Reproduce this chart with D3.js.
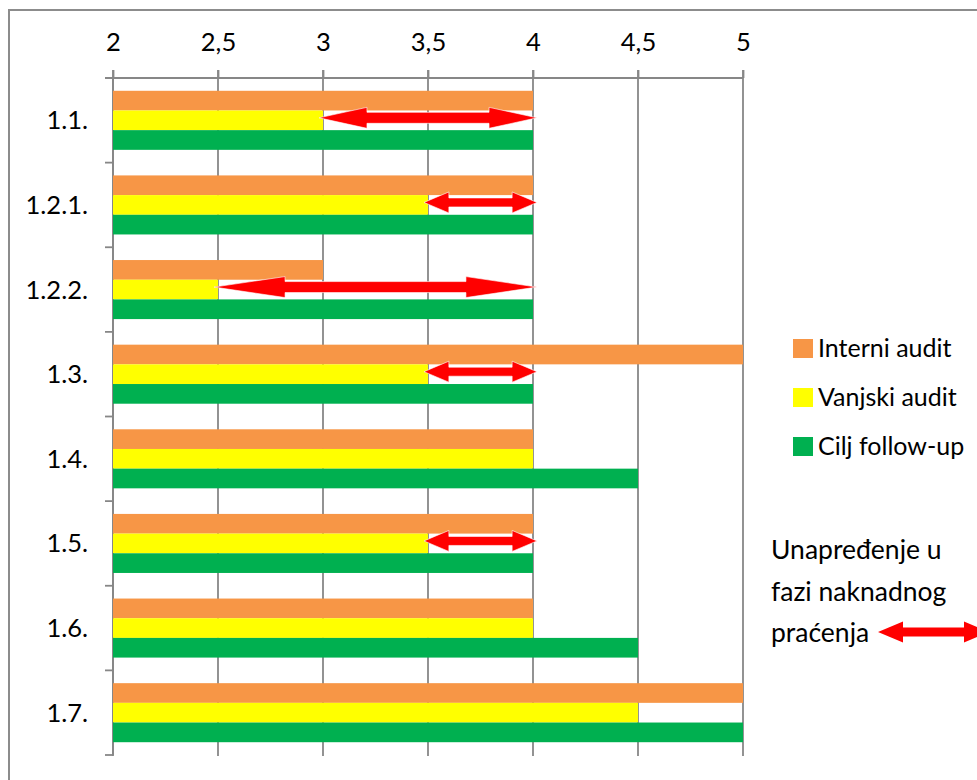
<!DOCTYPE html>
<html>
<head>
<meta charset="utf-8">
<script src="https://cdn.jsdelivr.net/npm/d3@7/dist/d3.min.js"></script>
<style>
  html, body { margin: 0; padding: 0; background: #fff; }
  svg { display: block; }
  text { font-family: Lato, "Noto Sans", "DejaVu Sans", sans-serif; fill: #000; }
</style>
</head>
<body>
<svg id="chart" width="977" height="780"></svg>
<script>
// ---- data ----
const categories = ["1.1.", "1.2.1.", "1.2.2.", "1.3.", "1.4.", "1.5.", "1.6.", "1.7."];
const interniAudit = [4, 4, 3, 5, 4, 4, 4, 5];
const vanjskiAudit = [3, 3.5, 2.5, 3.5, 4, 3.5, 4, 4.5];
const ciljFollowUp = [4, 4, 4, 4, 4.5, 4, 4.5, 5];
const seriesNames = ["Interni audit", "Vanjski audit", "Cilj follow-up"];
const tickValues = [2, 2.5, 3, 3.5, 4, 4.5, 5];
const tickLabels = ["2", "2,5", "3", "3,5", "4", "4,5", "5"];
// improvement arrows (from external audit value to follow-up target)
const arrowCats = ["1.1.", "1.2.1.", "1.2.2.", "1.3.", "1.5."];
const arrowFrom = [3, 3.5, 2.5, 3.5, 3.5];
const arrowTo = [4, 4, 4, 4, 4];
const noteLines = ["Unapređenje u", "fazi naknadnog", "praćenja"];

// ---- layout ----
const colors = ["#F79646", "#FFFF00", "#00B050"];
const seriesValues = [interniAudit, vanjskiAudit, ciljFollowUp];
const svg = d3.select("#chart");
const W = 977, H = 780;
const plot = { left: 113, right: 743, top: 78, bottom: 755 };
const gridColor = "#878787";

svg.append("rect").attr("width", W).attr("height", H).attr("fill", "#fff");
// outer chart border (extends beyond the visible area on right/bottom)
svg.append("rect")
  .attr("x", 9).attr("y", 10).attr("width", 1100).attr("height", 1100)
  .attr("fill", "none").attr("stroke", "#8c8c8c").attr("stroke-width", 2);

const x = d3.scaleLinear().domain([2, 5]).range([plot.left, plot.right]);
const y = d3.scaleBand().domain(categories).range([plot.top, plot.bottom]).padding(0);
const sub = d3.scaleBand().domain(d3.range(3)).range([0, y.bandwidth()])
  .paddingInner(0).paddingOuter(0.65);

// vertical gridlines
svg.append("g").selectAll("line").data(tickValues).join("line")
  .attr("x1", d => x(d)).attr("x2", d => x(d))
  .attr("y1", plot.top - 8).attr("y2", plot.bottom + 1)
  .attr("stroke", gridColor).attr("stroke-width", 1.8);

// top axis
const xAxis = d3.axisTop(x).tickValues(tickValues)
  .tickFormat((d, i) => tickLabels[i]).tickSize(8).tickSizeOuter(0);
const gx = svg.append("g").attr("transform", `translate(0,${plot.top})`).call(xAxis);
gx.select(".domain").attr("stroke", gridColor).attr("stroke-width", 1.8)
  .attr("d", `M${plot.left - 8},0H${plot.right}`);
gx.selectAll(".tick line").attr("stroke", gridColor).attr("stroke-width", 1.8);
gx.selectAll(".tick text").attr("font-size", 25.5).attr("y", -27).attr("dy", 0)
  .style("font-family", "Lato, 'Noto Sans', sans-serif");

// left category axis
const boundaries = categories.map(c => y(c)).concat([plot.bottom]);
svg.append("line").attr("x1", plot.left).attr("x2", plot.left)
  .attr("y1", plot.top).attr("y2", plot.bottom)
  .attr("stroke", gridColor).attr("stroke-width", 1.8);
svg.append("g").selectAll("line").data(boundaries).join("line")
  .attr("x1", plot.left - 8).attr("x2", plot.left)
  .attr("y1", d => d).attr("y2", d => d)
  .attr("stroke", gridColor).attr("stroke-width", 1.8);
svg.append("g").selectAll("text").data(categories).join("text")
  .attr("x", 88).attr("y", d => y(d) + y.bandwidth() / 2 + 9)
  .attr("text-anchor", "end").attr("font-size", 25.5).text(d => d);

// bars
seriesValues.forEach((vals, s) => {
  svg.append("g").selectAll("rect").data(categories).join("rect")
    .attr("x", x(2))
    .attr("y", (c) => y(c) + sub(s))
    .attr("width", (c, i) => x(vals[i]) - x(2))
    .attr("height", sub.bandwidth())
    .attr("fill", colors[s]);
});

// double arrow path generator
function doubleArrow(x1, x2, cy, headLen, headH, shaftH) {
  const hh = headH / 2, sh = shaftH / 2;
  return `M${x1},${cy} L${x1 + headLen},${cy - hh} L${x1 + headLen},${cy - sh}` +
    ` L${x2 - headLen},${cy - sh} L${x2 - headLen},${cy - hh} L${x2},${cy}` +
    ` L${x2 - headLen},${cy + hh} L${x2 - headLen},${cy + sh} L${x1 + headLen},${cy + sh}` +
    ` L${x1 + headLen},${cy + hh} Z`;
}

svg.append("g").selectAll("path").data(arrowCats).join("path")
  .attr("d", (c, i) => {
    const x1 = x(arrowFrom[i]) - 4, x2 = x(arrowTo[i]) + 4;
    const len = x2 - x1;
    const cy = y(c) + sub(1) + sub.bandwidth() / 2 - 2.5;
    return doubleArrow(x1, x2, cy, len * 0.22, 21, len > 150 ? 11 : 9);
  })
  .attr("fill", "#FF0000").attr("stroke", "#fff").attr("stroke-width", 0.6);

// legend
const legend = svg.append("g");
seriesNames.forEach((name, i) => {
  const ly = 339 + i * 49;
  legend.append("rect").attr("x", 793).attr("y", ly).attr("width", 20).attr("height", 19)
    .attr("fill", colors[i]);
  legend.append("text").attr("x", 818).attr("y", ly + 18).attr("font-size", 25).text(name);
});

// annotation
svg.append("g").selectAll("text").data(noteLines).join("text")
  .attr("x", 771).attr("y", (d, i) => 559 + i * 41.5)
  .attr("font-size", 26.5).text(d => d);
svg.append("path")
  .attr("d", doubleArrow(878, 989, 632, 25, 21, 9))
  .attr("fill", "#FF0000");
</script>
</body>
</html>
